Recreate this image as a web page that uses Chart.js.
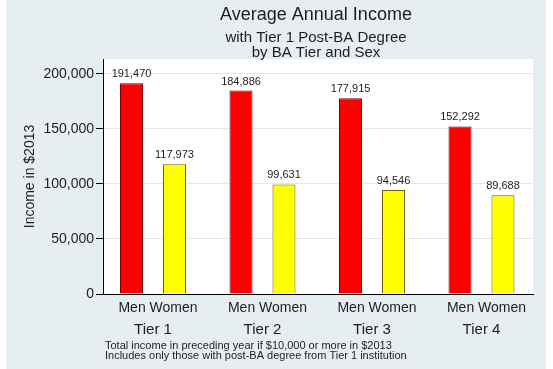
<!DOCTYPE html>
<html>
<head>
<meta charset="utf-8">
<script src="https://cdn.jsdelivr.net/npm/chart.js@4/dist/chart.umd.min.js"></script>
<style>
  html, body { margin: 0; padding: 0; background: #fff; }
  canvas { display: block; }
</style>
</head>
<body>
<canvas id="income-chart" width="553" height="369"></canvas>
<script>
// data
var tiers = ['Tier 1', 'Tier 2', 'Tier 3', 'Tier 4'];
var sexLabels = ['Men', 'Women'];
var menIncome = [191470, 184886, 177915, 152292];
var womenIncome = [117973, 99631, 94546, 89688];
var yTicks = [0, 50000, 100000, 150000, 200000];

var titleText = 'Average Annual Income';
var subtitleLines = ['with Tier 1 Post-BA Degree', 'by BA Tier and Sex'];
var yTitle = 'Income in $2013';
var noteLines = [
    'Total income in preceding year if $10,000 or more in $2013',
    'Includes only those with post-BA degree from Tier 1 institution'
];

var FONT = 'Liberation Sans, Arial, sans-serif';
var TEXT = '#1e1e1e';

// stata-ish background: bluish frame, white plot region
var backdrop = {
    id: 'backdrop',
    beforeDraw: function(chart) {
        var c = chart.ctx, a = chart.chartArea;
        c.save();
        c.fillStyle = '#ffffff';
        c.fillRect(0, 0, chart.width, chart.height);
        c.fillStyle = '#e7eef1';
        c.fillRect(6, 0, 540, chart.height);
        c.fillStyle = '#ffffff';
        c.fillRect(a.left, a.top, a.right - a.left, a.bottom - a.top);
        c.restore();
    }
};

// stata leaves a bit less than half a group at each end
var groupSpread = {
    id: 'groupSpread',
    afterLayout: function(chart) {
        ['x', 'x2'].forEach(function(id) {
            var s = chart.scales[id];
            if (!s) return;
            s._startPixel = s.left - 4.75;
            s._endPixel = s.right + 3.25;
            s._length = s._endPixel - s._startPixel;
        });
    }
};

// titles on top, notes at the bottom
var headings = {
    id: 'headings',
    afterDraw: function(chart) {
        var c = chart.ctx, a = chart.chartArea;
        var cx = (a.left + a.right) / 2 - 2;
        c.save();
        c.fillStyle = TEXT;
        c.textAlign = 'center';
        c.textBaseline = 'alphabetic';
        c.font = '18px ' + FONT;
        c.fillText(titleText, cx, 20);
        c.font = '15px ' + FONT;
        c.fillText(subtitleLines[0], cx, 42);
        c.fillText(subtitleLines[1], cx, 57);
        c.textAlign = 'left';
        c.font = '11px ' + FONT;
        c.fillText(noteLines[0], 105, 349);
        c.fillText(noteLines[1], 105, 359);
        c.restore();
    }
};

// value above each bar
var barValues = {
    id: 'barValues',
    afterDatasetsDraw: function(chart) {
        var c = chart.ctx;
        c.save();
        c.fillStyle = TEXT;
        c.font = '11px ' + FONT;
        c.textAlign = 'center';
        c.textBaseline = 'alphabetic';
        chart.data.datasets.forEach(function(ds, i) {
            chart.getDatasetMeta(i).data.forEach(function(bar, j) {
                c.fillText(ds.data[j].toLocaleString('en-US'), bar.x, bar.y - 6);
            });
        });
        c.restore();
    }
};

var ctx = document.getElementById('income-chart').getContext('2d');
new Chart(ctx, {
    type: 'bar',
    data: {
        labels: tiers,
        datasets: [{
            label: sexLabels[0],
            data: menIncome,
            backgroundColor: '#ff0000',
            borderColor: '#6e0000',
            borderWidth: 1
        }, {
            label: sexLabels[1],
            data: womenIncome,
            backgroundColor: '#ffff00',
            borderColor: '#6e6000',
            borderWidth: 1
        }]
    },
    options: {
        responsive: false,
        animation: false,
        layout: { padding: { top: 59, left: 0, right: 20, bottom: 31 } },
        datasets: { bar: { categoryPercentage: 0.785, barPercentage: 0.535 } },
        plugins: {
            legend: { display: false },
            tooltip: { enabled: false }
        },
        scales: {
            x: {
                type: 'category',
                offset: true,
                weight: 0,
                grid: { display: false, drawTicks: false },
                border: { display: true, color: '#000', width: 1 },
                ticks: {
                    callback: function() { return sexLabels.join(' '); },
                    font: { size: 14, family: FONT },
                    color: TEXT,
                    padding: 6,
                    labelOffset: 5,
                    maxRotation: 0,
                    autoSkip: false
                },
                afterFit: function(s) { s.height = 22; }
            },
            x2: {
                type: 'category',
                labels: tiers,
                position: 'bottom',
                offset: true,
                weight: 1,
                grid: { display: false, drawTicks: false },
                border: { display: false },
                ticks: {
                    font: { size: 15, family: FONT },
                    color: TEXT,
                    padding: 5,
                    maxRotation: 0,
                    autoSkip: false
                },
                afterFit: function(s) { s.height = 22; }
            },
            y: {
                min: 0,
                max: 213600,
                afterBuildTicks: function(s) {
                    s.ticks = yTicks.map(function(v) { return { value: v }; });
                },
                afterFit: function(s) { s.width = 103; },
                ticks: {
                    font: { size: 14, family: FONT },
                    color: TEXT,
                    padding: 2,
                    callback: function(v) { return v.toLocaleString('en-US'); }
                },
                grid: {
                    color: function(c) {
                        return c.tick && c.tick.value === 0 ? 'rgba(0,0,0,0)' : '#e6e6e6';
                    },
                    tickColor: '#000',
                    tickLength: 7
                },
                border: { display: true, color: '#000', width: 1 },
                title: {
                    display: true,
                    text: yTitle,
                    font: { size: 14, family: FONT },
                    color: TEXT,
                    padding: { top: 22, bottom: 0 }
                }
            }
        }
    },
    plugins: [backdrop, groupSpread, barValues, headings]
});
</script>
</body>
</html>
